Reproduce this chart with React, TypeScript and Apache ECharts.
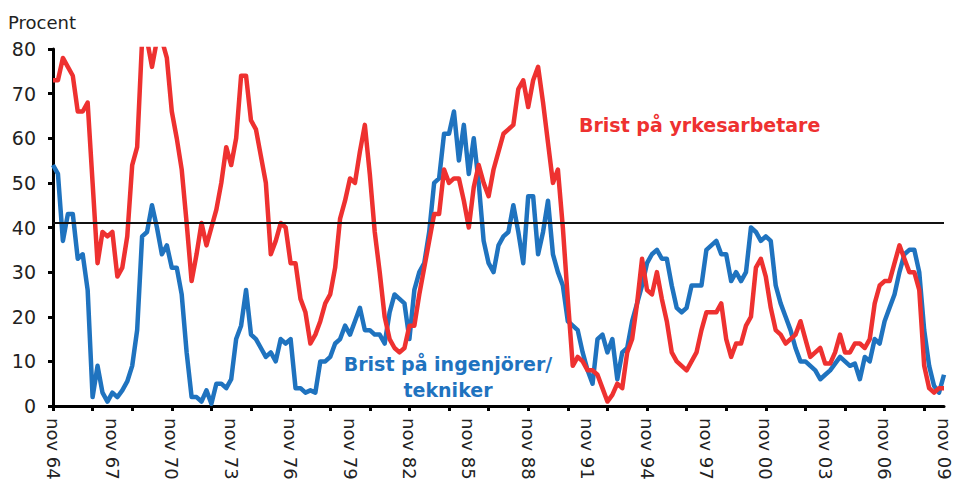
import React, { useEffect, useRef } from "react";
import * as echarts from "echarts";

// Quarterly survey values, nov 64 .. nov 09 (181 quarters)
const QUARTER_NAMES = ["nov", "feb", "maj", "aug"];
const FIRST_YEAR = 64;
const N_POINTS = 181;

const yrkesarbetare = [
  73, 73, 78, 76, 74, 66, 66, 68, 50, 32,
  39, 38, 39, 29, 31, 38, 54, 58, 82, 82,
  76, 82, 82, 78, 66, 60, 53, 41, 28, 34,
  41, 36, 40, 44, 50, 58, 54, 60, 74, 74,
  64, 62, 56, 50, 34, 37, 41, 40, 32, 32,
  24, 21, 14, 16, 19, 23, 25, 31, 42, 46,
  51, 50, 57, 63, 52, 39, 30, 20, 15, 13,
  12, 13, 18, 18, 25, 31, 37, 43, 43, 53,
  50, 51, 51, 46, 40, 49, 54, 50, 47, 53,
  57, 61, 62, 63, 71, 73, 67, 73, 76, 68,
  59, 50, 53, 40, 24, 9, 11, 10, 8, 8,
  7, 4, 1, 2.5, 5, 4, 12, 15, 23, 33,
  26, 25, 30, 24, 19, 12, 10, 9, 8, 10,
  12, 17, 21, 21, 21, 23, 15, 11, 14, 14,
  18, 20, 31, 33, 29, 22, 17, 16, 14, 15,
  16, 19, 15, 11, 12, 13, 9.5, 9.5, 12, 16,
  12, 12, 14, 14, 13, 15, 23, 27, 28, 28,
  32, 36, 33, 30, 30, 26, 9, 4, 3, 4,
  4,
];

const ingenjorer = [
  54, 52, 37, 43, 43, 33, 34, 26, 2, 9,
  3, 1, 3, 2, 3.5, 5.5, 9, 17, 38, 39,
  45, 40, 34, 36, 31, 31, 25, 12, 2, 2,
  1, 3.5, 0.5, 5, 5, 4, 6, 15, 18, 26,
  16, 15, 13, 11, 12, 10, 15, 14, 15, 4,
  4, 3, 3.5, 3, 10, 10, 11, 14, 15, 18,
  16, 19, 22, 17, 17, 16, 16, 14, 21, 25,
  24, 23, 15, 26, 30, 32, 39, 50, 51, 61,
  61, 66, 55, 63, 52, 60, 50, 37, 32, 30,
  36, 38, 39, 45, 39, 32, 47, 47, 34, 39,
  46, 34, 30, 27, 19, 18, 17, 12, 8, 5,
  15, 16, 12, 15, 6, 12, 13, 19, 23, 27,
  32, 34, 35, 33, 33, 27, 22, 21, 22, 27,
  27, 27, 35, 36, 37, 34, 34, 28, 30, 28,
  30, 40, 39, 37, 38, 37, 27, 23, 20, 17,
  13, 10, 10, 9, 8, 6, 7, 8, 9.5, 11,
  10, 9, 9.5, 6, 11, 10, 15, 14, 19, 22,
  25, 30, 34, 35, 35, 30, 17, 9, 4.5, 3,
  7,
];

const REFERENCE_LEVEL = 41;
const Y_TICKS = [0, 10, 20, 30, 40, 50, 60, 70, 80];

const categories: string[] = [];
for (let i = 0; i < N_POINTS; i++) {
  const yr = (FIRST_YEAR + Math.floor((i + 3) / 4)) % 100;
  categories.push(`${QUARTER_NAMES[i % 4]} ${yr < 10 ? "0" + yr : yr}`);
}

const RED = "#ee3130";
const BLUE = "#1f73bf";
const TXT = "#222222";
const FONT = '"DejaVu Sans", sans-serif';

export default function App() {
  const ref = useRef<HTMLDivElement>(null);
  useEffect(() => {
    if (!ref.current) return;
    const chart = echarts.init(ref.current, undefined, { renderer: "svg" });
    chart.setOption({
      animation: false,
      backgroundColor: "#ffffff",
      grid: { left: 53, right: 12, top: 49, bottom: 77, containLabel: false },
      xAxis: {
        type: "category",
        data: categories,
        boundaryGap: false,
        axisLine: { show: true, lineStyle: { color: "#000", width: 3 } },
        axisTick: { show: true, interval: 7, length: 5, lineStyle: { color: "#000", width: 3 } },
        axisLabel: {
          interval: 11,
          rotate: -90,
          margin: 12,
          color: TXT,
          fontSize: 18,
          fontFamily: FONT,
        },
        splitLine: { show: false },
      },
      yAxis: {
        type: "value",
        min: Y_TICKS[0],
        max: Y_TICKS[Y_TICKS.length - 1],
        interval: 10,
        axisLine: { show: true, lineStyle: { color: "#000", width: 3 } },
        axisTick: { show: true, length: 5, lineStyle: { color: "#000", width: 3 } },
        axisLabel: { color: TXT, fontSize: 19, fontFamily: FONT, margin: 17 },
        splitLine: { show: false },
      },
      series: [
        {
          name: "Brist på ingenjörer/tekniker",
          type: "line",
          data: ingenjorer,
          symbol: "none",
          clip: true,
          lineStyle: { color: BLUE, width: 4.5, join: "round" },
          markLine: {
            silent: true,
            symbol: "none",
            label: { show: false },
            lineStyle: { color: "#111", width: 2, type: "solid" },
            data: [{ yAxis: REFERENCE_LEVEL }],
          },
        },
        {
          name: "Brist på yrkesarbetare",
          type: "line",
          data: yrkesarbetare,
          symbol: "none",
          clip: true,
          lineStyle: { color: RED, width: 4.5, join: "round" },
        },
      ],
      graphic: [
        {
          type: "text",
          x: 8,
          y: 22,
          style: {
            text: "Procent",
            font: `18px ${FONT}`,
            fill: TXT,
            textAlign: "left",
            textVerticalAlign: "middle",
          },
        },
        {
          type: "text",
          x: 579,
          y: 125,
          style: {
            text: "Brist på yrkesarbetare",
            font: `bold 19px ${FONT}`,
            fill: RED,
            textAlign: "left",
            textVerticalAlign: "middle",
          },
        },
        {
          type: "text",
          x: 448,
          y: 364,
          style: {
            text: "Brist på ingenjörer/",
            font: `bold 19px ${FONT}`,
            fill: BLUE,
            textAlign: "center",
            textVerticalAlign: "middle",
          },
        },
        {
          type: "text",
          x: 448,
          y: 390,
          style: {
            text: "tekniker",
            font: `bold 19px ${FONT}`,
            fill: BLUE,
            textAlign: "center",
            textVerticalAlign: "middle",
          },
        },
      ],
    });
    return () => chart.dispose();
  }, []);
  return (
    <div
      ref={ref}
      style={{ position: "fixed", left: 0, top: 0, width: 956, height: 483, background: "#fff" }}
    />
  );
}
